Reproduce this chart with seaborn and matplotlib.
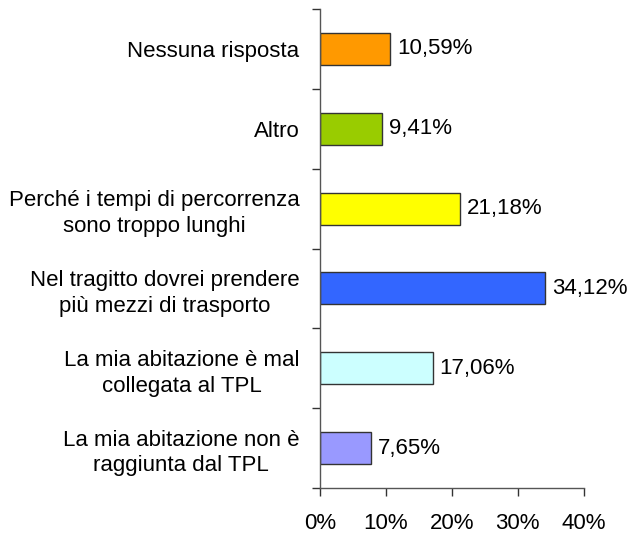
import numpy as np
import seaborn as sns
import matplotlib.pyplot as plt
from matplotlib.ticker import MultipleLocator, FixedLocator, FuncFormatter

categories = [
    "Nessuna risposta",
    "Altro",
    "Perché i tempi di percorrenza\nsono troppo lunghi",
    "Nel tragitto dovrei prendere\npiù mezzi di trasporto",
    "La mia abitazione è mal\ncollegata al TPL",
    "La mia abitazione non è\nraggiunta dal TPL",
]
values = [10.59, 9.41, 21.18, 34.12, 17.06, 7.65]
colors = ["#FF9900", "#99CC00", "#FFFF00", "#3366FF", "#CCFFFF", "#9999FF"]

sns.set_style("white")
plt.rcParams["font.family"] = ["Liberation Sans", "DejaVu Sans"]
plt.rcParams["text.color"] = "black"
plt.rcParams["xtick.color"] = "black"
plt.rcParams["ytick.color"] = "black"

fig = plt.figure(figsize=(6.29, 5.35), dpi=100)
ax = fig.add_axes([0.509, 0.088, 0.419, 0.895])

sns.barplot(x=values, y=categories, hue=categories, palette=colors, legend=False,
            width=0.4, edgecolor="#333333", linewidth=1, saturation=1, ax=ax)

for cont in ax.containers:
    ax.bar_label(cont, labels=[f"{v:.2f}%".replace(".", ",") for v in cont.datavalues],
                 padding=5, fontsize=16, color="black")

ax.set_xlim(0, 40)
ax.set_ylim(5.5, -0.5)
ax.xaxis.set_major_locator(MultipleLocator(10))
ax.xaxis.set_major_formatter(FuncFormatter(lambda v, p: f"{v:.0f}%"))
ax.set_xlabel("")
ax.set_ylabel("")

# ticks at category boundaries on the y axis
ax.yaxis.set_minor_locator(FixedLocator(np.arange(-0.5, 6, 1)))
ax.tick_params(axis="y", which="major", length=0, pad=15, labelsize=16, labelcolor="black")
ax.tick_params(axis="y", which="minor", left=True, length=6, width=1, color="#333333")
ax.tick_params(axis="x", bottom=True, length=6, width=1, color="#333333", pad=12,
               labelsize=16, labelcolor="black")
for lab in ax.get_yticklabels():
    lab.set_multialignment("center")
    lab.set_linespacing(1.3)

sns.despine(ax=ax)
for s in ["left", "bottom"]:
    ax.spines[s].set_color("#555555")
    ax.spines[s].set_linewidth(1)

fig.savefig("out.png", dpi=100)
